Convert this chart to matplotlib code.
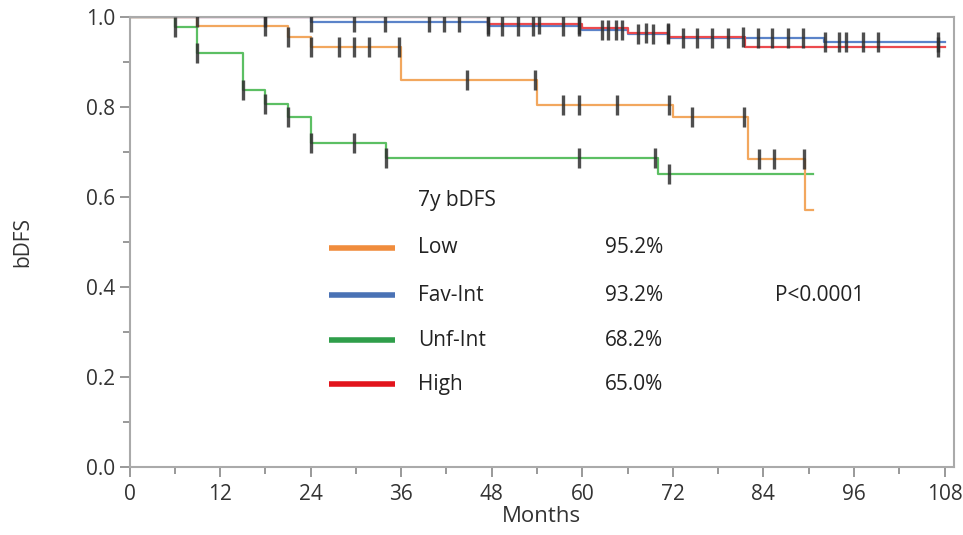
import numpy as np
import matplotlib.pyplot as plt

plt.rcParams['font.family'] = ['Open Sans', 'DejaVu Sans']

# step curves: event times (months) and survival after each step
low_t = [0, 9, 21, 24, 36, 54, 72, 82, 89.5, 90.6]
low_s = [1.0, 0.981, 0.956, 0.934, 0.86, 0.804, 0.777, 0.684, 0.571, 0.571]
low_c = [18, 21, 24, 27.8, 29.7, 31.7, 35.7, 44.7, 53.7, 57.4, 59.6, 64.6,
         71.5, 74.5, 81.4, 83.4, 85.4, 89.4]

fav_t = [0, 24, 47.5, 60, 66, 71.5, 92, 108]
fav_s = [1.0, 0.99, 0.981, 0.972, 0.962, 0.953, 0.944, 0.944]
fav_c = [9, 18, 24, 29.7, 33.8, 39.7, 41.7, 43.7, 47.5, 49.4, 51.5, 53.5,
         57.5, 59.5, 62.6, 63.4, 64.5, 65.3, 67.4, 69.4, 71.4, 73.4, 75.2,
         77.2, 79.3, 83.3, 85.2, 87.3, 89.3, 92.2, 94, 95, 97.2, 99.2, 107.2]

unf_t = [0, 6, 9, 15, 18, 21, 24, 34, 70, 90.6]
unf_s = [1.0, 0.977, 0.921, 0.838, 0.806, 0.778, 0.72, 0.687, 0.652, 0.652]
unf_c = [6, 9, 15, 18, 21, 24, 29.7, 34, 59.5, 69.6, 71.5]

high_t = [0, 47.5, 60, 66, 71.5, 81.5, 108]
high_s = [1.0, 0.984, 0.975, 0.965, 0.955, 0.934, 0.934]
high_c = [47.5, 54.3, 59.5, 68.5, 71.4, 81.3, 107.2]

groups = ['Low', 'Fav-Int', 'Unf-Int', 'High']
rates = ['95.2%', '93.2%', '68.2%', '65.0%']
line_cols = ['#f2a75e', '#5b83c9', '#5cbf63', '#ec4a4e']
key_cols = ['#f08c3c', '#4a72b5', '#2f9e4a', '#e2141c']

fig = plt.figure(figsize=(9.63, 5.35), dpi=100)
ax = fig.add_axes([0.1345, 0.127, 0.8565, 0.841])

curves = [(low_t, low_s, low_c), (fav_t, fav_s, fav_c),
          (unf_t, unf_s, unf_c), (high_t, high_s, high_c)]
order = [2, 0, 1, 3]
for i in order:
    t, s, c = curves[i]
    ax.plot(t, s, drawstyle='steps-post', color=line_cols[i], lw=1.6, zorder=2)
for i in order:
    t, s, c = curves[i]
    idx = np.searchsorted(t, c, side='right') - 1
    ax.plot(c, np.array(s)[idx], '|', ms=14, mew=2.4, color='#303030',
            alpha=0.85, zorder=3)

# key inside the plot
ax.text(38.2, 0.593, '7y bDFS', fontsize=15, color='#222', va='center')
key_y = [0.487, 0.382, 0.282, 0.184]
for g, r, col, y in zip(groups, rates, key_cols, key_y):
    ax.plot([26.4, 35.2], [y, y], color=col, lw=4, solid_capstyle='butt')
    ax.text(38.2, y, g, fontsize=15, color='#222', va='center')
    ax.text(63.0, y, r, fontsize=15, color='#222', va='center')
ax.text(85.6, 0.382, 'P<0.0001', fontsize=15, color='#222', va='center')

ax.set_xlim(0, 109.3)
ax.set_ylim(0, 1.0)
ax.set_xticks(np.arange(0, 109, 12))
ax.set_xticks(np.arange(6, 109, 12), minor=True)
ax.set_yticks(np.arange(0, 1.01, 0.2))
ax.set_yticks(np.arange(0.1, 1.0, 0.2), minor=True)
ax.yaxis.set_major_formatter(plt.FormatStrFormatter('%.1f'))
ax.tick_params(which='major', length=7, color='#888', labelsize=15,
               labelcolor='#333', width=1.2)
ax.tick_params(axis='x', which='major', pad=5)
ax.tick_params(which='minor', length=5, color='#888', width=1.2)
for sp in ax.spines.values():
    sp.set_color('#aaaaaa')
    sp.set_linewidth(1.5)
ax.set_xlabel('Months', fontsize=16, color='#333', labelpad=1)
ax.set_ylabel('bDFS', fontsize=15, color='#333', labelpad=38)

fig.savefig('out.png', dpi=100)
